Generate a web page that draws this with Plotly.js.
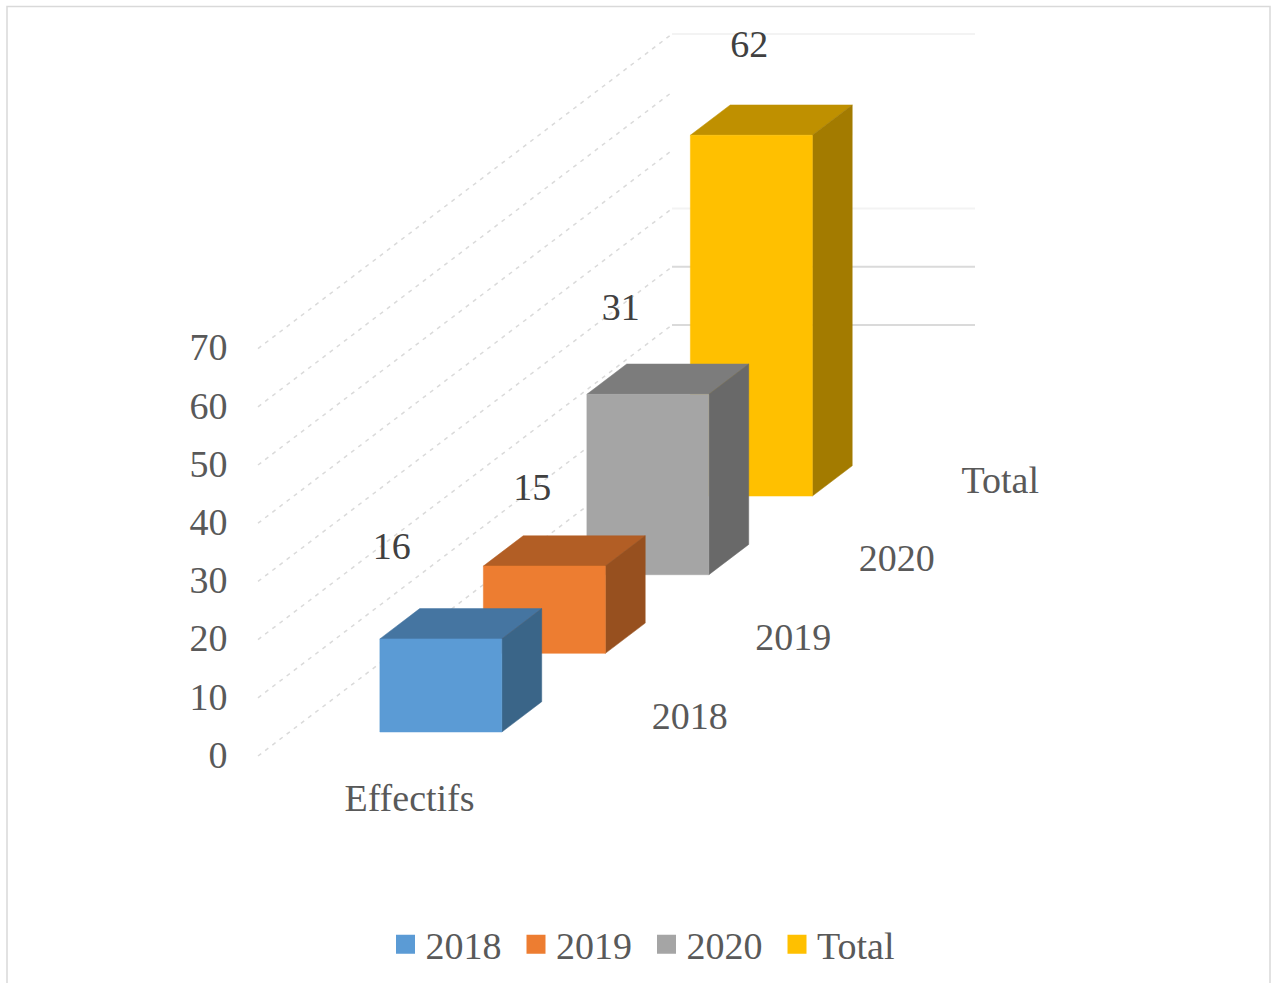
<!DOCTYPE html>
<html>
<head>
<meta charset="utf-8">
<script src="https://cdn.plot.ly/plotly-3.0.1.min.js"></script>
<style>html,body{margin:0;padding:0;background:#fff;overflow:hidden}#chart{width:1271px;height:983px}</style>
</head>
<body>
<div id="chart"></div>
<script>
// ---- data ----
var seriesNames = ['2018', '2019', '2020', 'Total'];
var seriesValues = [16, 15, 31, 62];
var categoryLabel = 'Effectifs';
var valueTicks = [0, 10, 20, 30, 40, 50, 60, 70];

// ---- styling ----
var frontColors = ['#5B9BD5', '#ED7D31', '#A5A5A5', '#FFC000'];
var topColors = ['#4575A1', '#B25E25', '#7C7C7C', '#BF9000'];
var sideColors = ['#3A6588', '#97501F', '#696969', '#A37B00'];
var wallColors = [null, null, '#DADADA', '#DADADA', '#F3F3F3', null, null, '#F3F3F3'];
var labelShifts = [[-49, -89], [-12, -76], [-27, -84], [-2, -88]];

// ---- oblique 3D projection constants ----
var pxPerUnit = 5.82, axisOriginY = 754.5, floorDrop = 1.5, originX = 258;
var depthDx = 103.5, depthDy = 78.65, wallWidth = 303;
var barStart = 90.3, barWidth = 122, depthStart = 0.305, depthSize = 0.385;
var serif = '"Liberation Serif", serif';
var textSize = 38;

function px(u, d) { return originX + u + d * depthDx; }
function py(v, d) { return v + (d * depthDy - floorDrop) / pxPerUnit; }
function yRange() { return [(axisOriginY - 983) / pxPerUnit, axisOriginY / pxPerUnit]; }

function poly(points, color) {
  return {
    type: 'scatter', mode: 'lines', fill: 'toself', fillcolor: color,
    x: points.map(function (p) { return px(p[0], p[1]); }),
    y: points.map(function (p) { return py(p[2], p[1]); }),
    line: { color: color, width: 0.5 }, hoverinfo: 'skip', showlegend: false
  };
}

var traces = [];

// grid: diagonals on the side wall and horizontals on the back wall
valueTicks.forEach(function (v, k) {
  traces.push({
    type: 'scatter', mode: 'lines', x: [px(0, 0), px(0, 4)], y: [py(v, 0), py(v, 4)],
    line: { color: '#DADADA', width: 1.5, dash: '4px,5px' }, hoverinfo: 'skip', showlegend: false
  });
  if (wallColors[k]) {
    traces.push({
      type: 'scatter', mode: 'lines', x: [px(0, 4), px(wallWidth, 4)], y: [py(v, 4), py(v, 4)],
      line: { color: wallColors[k], width: 2 }, hoverinfo: 'skip', showlegend: false
    });
  }
});

// bars, painted back to front
for (var i = seriesValues.length - 1; i >= 0; i--) {
  var v = seriesValues[i];
  var d0 = i + depthStart, d1 = d0 + depthSize;
  var u0 = barStart, u1 = barStart + barWidth;
  traces.push(poly([[u0, d0, v], [u1, d0, v], [u1, d1, v], [u0, d1, v], [u0, d0, v]], topColors[i]));
  traces.push(poly([[u1, d0, 0], [u1, d1, 0], [u1, d1, v], [u1, d0, v], [u1, d0, 0]], sideColors[i]));
  traces.push(poly([[u0, d0, 0], [u1, d0, 0], [u1, d0, v], [u0, d0, v], [u0, d0, 0]], frontColors[i]));
}

// data labels
traces.push({
  type: 'scatter', mode: 'text',
  x: seriesValues.map(function (v, i) { return px(barStart + barWidth / 2, i + depthStart) + labelShifts[i][0]; }),
  y: seriesValues.map(function (v, i) { return py(v, i + depthStart) - labelShifts[i][1] / pxPerUnit; }),
  text: seriesValues.map(String),
  textposition: 'middle center', textfont: { family: serif, size: textSize, color: '#404040' },
  hoverinfo: 'skip', showlegend: false
});

// depth-axis labels
traces.push({
  type: 'scatter', mode: 'text',
  x: seriesNames.map(function (n, i) { return px(380, i + 0.5); }),
  y: seriesNames.map(function (n, i) { return py(-0.4, i + 0.5); }),
  text: seriesNames,
  textposition: 'middle center', textfont: { family: serif, size: textSize, color: '#595959' },
  hoverinfo: 'skip', showlegend: false
});

// category label
traces.push({
  type: 'scatter', mode: 'text',
  x: [px(wallWidth / 2, 0)], y: [py(-7.9, 0)], text: [categoryLabel],
  textposition: 'middle center', textfont: { family: serif, size: textSize, color: '#595959' },
  hoverinfo: 'skip', showlegend: false
});

// legend entries
seriesNames.forEach(function (n, i) {
  traces.push({
    type: 'scatter', mode: 'markers', name: n, x: [null], y: [null],
    marker: { symbol: 'square', size: 16, color: frontColors[i], line: { color: frontColors[i], width: 3 } },
    showlegend: true, hoverinfo: 'skip'
  });
});

// chart frame
var frameLine = { color: '#D9D9D9', width: 1.5 };
var frameTop = (axisOriginY - 6.5) / pxPerUnit;
traces.push({
  type: 'scatter', mode: 'lines', x: [7, 7, 1270, 1270], y: [yRange()[0], frameTop, frameTop, yRange()[0]],
  line: frameLine, hoverinfo: 'skip', showlegend: false
});

var layout = {
  width: 1271, height: 983,
  margin: { l: 0, r: 0, t: 0, b: 0, pad: 0 },
  paper_bgcolor: '#fff', plot_bgcolor: '#fff',
  font: { family: serif, color: '#595959', size: textSize },
  xaxis: { range: [0, 1271], domain: [0, 1], visible: false, fixedrange: true },
  yaxis: {
    range: yRange(), anchor: 'free', position: 239 / 1271, overlaying: false,
    tickmode: 'array', tickvals: valueTicks, ticktext: valueTicks.map(String),
    showgrid: false, zeroline: false, showline: false,
    ticks: 'outside', ticklen: 4, tickcolor: 'rgba(0,0,0,0)',
    tickfont: { family: serif, size: textSize, color: '#595959' }, fixedrange: true
  },
  legend: {
    orientation: 'h', x: 385.5 / 1271, xanchor: 'left', y: 1 - 913 / 983, yanchor: 'top',
    font: { family: serif, size: textSize, color: '#595959' },
    itemsizing: 'trace', entrywidth: 85.5, entrywidthmode: 'pixels', bgcolor: 'rgba(0,0,0,0)',
    traceorder: 'normal'
  },
  showlegend: true
};

Plotly.newPlot('chart', traces, layout, { displayModeBar: false, staticPlot: true });
</script>
</body>
</html>
